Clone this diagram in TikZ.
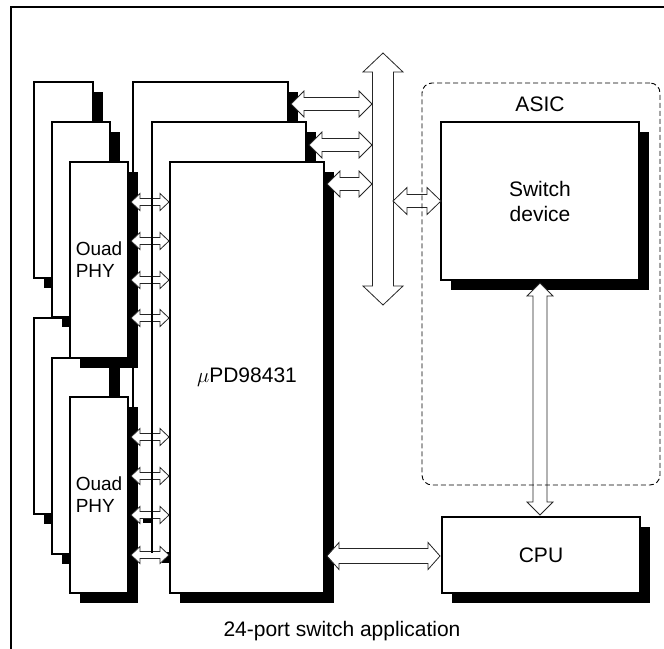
\documentclass[tikz,border=0pt]{standalone}
\usepackage{fontspec}
\setmainfont{Liberation Sans}
\usetikzlibrary{shadows}
\tikzset{
  box/.style={draw=black, line width=2.2pt, fill=white, rectangle, inner sep=0pt, outer sep=0pt,
    anchor=north west, general shadow={fill=black, shadow xshift=10pt, shadow yshift=-10pt}},
  fat/.style={draw=black!85, line width=0.8pt, fill=white, line join=miter},
  lbl/.style={font=\fontsize{21}{25}\selectfont, align=center},
  phylbl/.style={font=\fontsize{19}{22}\selectfont, align=left},
  asicline/.style={draw=black, line width=0.9pt, dash pattern=on 5pt off 3pt, rounded corners=10pt,
    rectangle, inner sep=0pt, outer sep=0pt, anchor=north west},
  frame/.style={draw=black, line width=2.2pt}
}
% horizontal fat double arrow: x1 x2 y headlen halfhead halfshaft
\newcommand{\fatH}[6]{%
  \draw[fat] (#1,#3) -- (#1+#4,#3-#5) -- (#1+#4,#3-#6) -- (#2-#4,#3-#6) -- (#2-#4,#3-#5) -- (#2,#3)
    -- (#2-#4,#3+#5) -- (#2-#4,#3+#6) -- (#1+#4,#3+#6) -- (#1+#4,#3+#5) -- cycle;}
% vertical fat double arrow: y1 y2 x headlen halfhead halfshaft
\newcommand{\fatV}[6]{%
  \draw[fat] (#3,#1) -- (#3+#5,#1+#4) -- (#3+#6,#1+#4) -- (#3+#6,#2-#4) -- (#3+#5,#2-#4) -- (#3,#2)
    -- (#3-#5,#2-#4) -- (#3-#6,#2-#4) -- (#3-#6,#1+#4) -- (#3-#5,#1+#4) -- cycle;}
\begin{document}
\begin{tikzpicture}[x=1pt, y=-1pt]
\useasboundingbox (0,0) rectangle (664,648);
% outer frame (cropped at right and bottom)
\coordinate (fbl) at (11,660);
\coordinate (ftl) at (11,7);
\coordinate (ftr) at (680,7);
\draw[frame] (fbl) -- (ftl) -- (ftr);

% uPD98431 stack
\node[box, minimum width=155pt, minimum height=431pt] (m1) at (133,82) {};
\node[box, minimum width=154pt, minimum height=431pt] (m2) at (152,122) {};
\node[box, minimum width=154pt, minimum height=431pt, lbl] (m3) at (170,162) {$\mu$PD98431};

% lower PHY stack
\node[box, minimum width=59pt, minimum height=196pt] (b1) at (34,318) {};
\node[box, minimum width=58pt, minimum height=196pt] (b2) at (52,358) {};
\node[box, minimum width=58pt, minimum height=196pt, phylbl] (b3) at (70,397) {Ouad\\PHY};
% upper PHY stack
\node[box, minimum width=59pt, minimum height=196pt] (a1) at (34,82) {};
\node[box, minimum width=58pt, minimum height=195pt] (a2) at (52,122) {};
\node[box, minimum width=58pt, minimum height=196pt, phylbl] (a3) at (70,162) {Ouad\\PHY};

% switch device and CPU
\node[box, minimum width=198pt, minimum height=158pt, lbl] (sw) at (441,122) {Switch\\device};
\node[box, minimum width=198pt, minimum height=76pt, lbl] (cpu) at (442,517) {CPU};

% PHY <-> uPD arrows
\foreach \yy in {202,241,280,318,437,476,515,555}{
  \fatH{131}{169}{\yy}{9}{8.5}{3.5}
}
% left edge of m2 seen through the arrow shafts
\draw[line width=2.2pt] (m2.north west) -- (m2.south west);

% uPD stack <-> bus arrows
\fatH{291}{372}{104}{13}{13}{6.5}
\fatH{309}{372}{145}{13}{13}{6.5}
\fatH{327}{372}{184}{13}{13}{6.5}
% bus
\fatV{53}{305}{383}{19}{20}{10.5}
% bus <-> switch
\fatH{393}{441}{201}{14}{13.5}{6.5}
% switch <-> CPU
\fatV{283}{515}{540}{13}{13}{7}
% uPD <-> CPU
\fatH{327}{440}{556}{12}{13.5}{7.5}

% ASIC boundary
\node[asicline, minimum width=238pt, minimum height=402pt] (asicbox) at (422,83) {};
\node[lbl] (asic) at (540,104) {ASIC};

% caption
\node[lbl] (cap) at (342,631) {24-port switch application};
\end{tikzpicture}
\end{document}
